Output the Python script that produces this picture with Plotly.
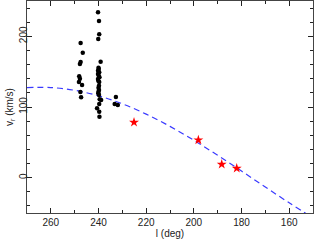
import plotly.graph_objects as go

# Black points: longitude l (deg) and radial velocity v_r (km/s)
obs_l = [240.2, 239.8, 239.7, 240.1, 239.1,
         240.0, 239.9, 240.2, 239.7, 240.2, 239.9, 239.6, 240.2, 240.1, 239.7,
         239.8, 240.0, 239.8, 240.0, 240.1, 239.8,
         239.5, 238.9, 239.7, 240.6, 239.7, 239.6,
         247.5, 246.6, 247.5, 247.8, 248.1, 247.8, 248.2, 246.9, 247.6, 247.3,
         232.7, 233.2, 231.9]
obs_v = [234.0, 221.7, 202.9, 196.2, 164.1,
         155.6, 153.8, 151.4, 149.1, 146.7, 144.3, 142.0, 139.6, 137.2, 135.4,
         130.1, 127.3, 124.1, 121.7, 119.4, 117.0,
         110.9, 109.9, 104.3, 98.2, 93.4, 86.3,
         190.6, 176.8, 163.7, 160.9, 143.4, 140.1, 135.4, 131.1, 121.2, 113.7,
         114.1, 104.3, 102.8]

# Red stars
star_l = [225.1, 198.1, 188.3, 182.0]
star_v = [78.3, 53.3, 18.9, 13.3]

# Blue dashed model curve
model_l = [270, 260, 250, 240, 230, 220, 210, 200, 190, 180, 170, 160, 150]
model_v = [127.5, 127.5, 123.6, 115.8, 104.5, 89.9, 72.6, 52.9, 31.6, 9.3, -13.3, -35.6, -57.0]

x_ticks = [260, 240, 220, 200, 180, 160]
y_ticks = [0, 100, 200]

FONT = dict(family="Liberation Sans, Arial", size=10, color="#222")

fig = go.Figure()
fig.add_trace(go.Scatter(x=model_l, y=model_v, mode="lines", line_shape="spline",
                         line=dict(color="#3a3aff", width=1.2, dash="6px,4px"),
                         hoverinfo="skip", showlegend=False))
fig.add_trace(go.Scatter(x=obs_l, y=obs_v, mode="markers",
                         marker=dict(color="black", size=4.5, symbol="circle"),
                         showlegend=False))
fig.add_trace(go.Scatter(x=star_l, y=star_v, mode="markers",
                         marker=dict(color="red", size=7.5, symbol="star",
                                     line=dict(width=0)),
                         showlegend=False))

axis_common = dict(showgrid=False, zeroline=False, showline=True, mirror="allticks",
                   linecolor="#444", linewidth=1, ticks="inside", ticklen=5,
                   tickcolor="#222", tickwidth=1, automargin=False,
                   tickfont=FONT)

fig.update_layout(
    width=314, height=245,
    margin=dict(l=27, r=1, t=1, b=32),
    paper_bgcolor="white", plot_bgcolor="white",
    xaxis=dict(range=[270, 150], tickvals=x_ticks,
               ticktext=[str(v) for v in x_ticks],
               minor=dict(dtick=10, ticks="inside", ticklen=3, tickcolor="#222"),
               title=dict(text="l (deg)", standoff=2, font=FONT),
               **axis_common),
    yaxis=dict(range=[-50, 250], tickvals=y_ticks,
               ticktext=[str(v) for v in y_ticks], tickangle=-90,
               ticklabelstandoff=-5,
               minor=dict(dtick=20, ticks="inside", ticklen=3, tickcolor="#222"),
               title=dict(text="v<sub>r</sub> (km/s)", standoff=2, font=FONT),
               **axis_common),
)

fig.write_html("out.html", config={"displayModeBar": False},
               post_script="document.body.style.margin='0';document.body.style.overflow='hidden';")
